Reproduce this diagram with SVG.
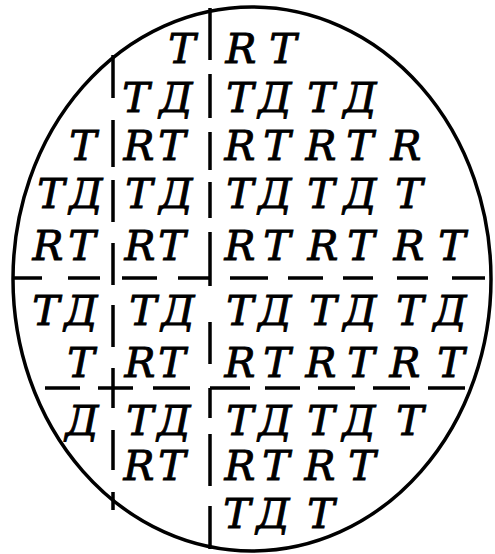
<svg xmlns="http://www.w3.org/2000/svg" width="495" height="554" viewBox="0 0 495 554">
<style>
.ln{stroke:#000;stroke-width:3.5;fill:none;stroke-linecap:butt}
.t{font-family:"DejaVu Serif","Liberation Serif",serif;font-style:italic;font-size:41px;fill:#000;stroke:#000;stroke-width:0.9;text-anchor:middle}
</style>
<rect width="495" height="554" fill="#fff"/>
<ellipse class="ln" cx="252" cy="279" rx="239" ry="272"/>
<g id="vertical-113">
<path class="ln" d="M113 55V98M113 120V167M113 180V222M113 243V285M113 305V347M113 368V408M113 430V470M113 492V510"/>
</g>
<g id="vertical-210">
<path class="ln" d="M210 8V60M210 74V118M210 132V170M210 182V218M210 232V286M210 322V364M210 388V418M210 434V486M210 506V549"/>
</g>
<g id="horizontal-278">
<path class="ln" d="M14 278H42M68 278H100M122 278H157M178 278H210M230 278H268M288 278H323M343 278H373M397 278H428M452 278H485"/>
</g>
<g id="horizontal-388">
<path class="ln" d="M45 388H80M98 388H133M153 388H190M210 388H250M265 388H300M318 388H355M373 388H410M428 388H465"/>
</g>
<g id="letters">
<text class="t" y="63" x="182 241 283">TRT</text>
<text class="t" y="112" x="136 176 240 275 321 360">TДTДTД</text>
<text class="t" y="160" x="83 139 172 240 277 321 360 406">TRTRTRTR</text>
<text class="t" y="208" x="51 86 139 176 240 275 321 360 409">TДTДTДTДT</text>
<text class="t" y="260" x="48 82 140 172 240 277 323 361 409 452">RTRTRTRTRT</text>
<text class="t" y="325" x="46 81 143 178 240 275 323 360 410 450">TДTДTДTДTД</text>
<text class="t" y="377" x="81 140 172 240 277 321 361 405 451">TRTRTRTRT</text>
<text class="t" y="435" x="82 140 174 240 275 321 359 410">ДTДTДTДT</text>
<text class="t" y="480" x="139 172 240 276 320 362">RTRTRT</text>
<text class="t" y="528" x="237 273 321">TДT</text>
</g>
</svg>
